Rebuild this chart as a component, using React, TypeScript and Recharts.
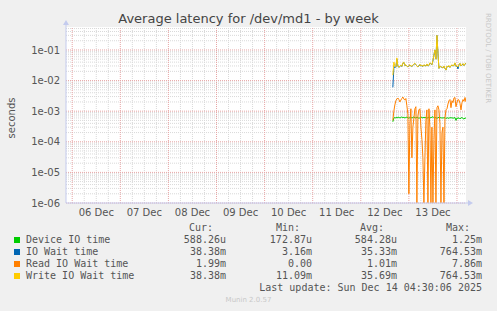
import React from "react";
import { LineChart, Line, XAxis, YAxis, CartesianGrid, ReferenceDot, ReferenceLine } from "recharts";

// hours since 06 Dec 00:00
const times = [
  160, 160.5, 161, 161.5, 162, 162.5, 163, 163.5, 164, 164.5,
  165, 165.5, 166, 166.5, 167, 167.5, 168, 168.5, 169, 169.5,
  170, 170.5, 171, 171.5, 172, 172.5, 173, 173.5, 174, 174.5,
  175, 175.5, 176, 176.5, 177, 177.5, 178, 178.5, 179, 179.5,
  180, 180.5, 181, 181.5, 182, 182.5, 183, 183.5, 184, 184.5,
  185, 185.5, 186, 186.5, 187, 187.5, 188, 188.5, 189, 189.5,
  190, 190.5, 191, 191.5, 192, 192.5, 193, 193.5, 194, 194.5,
  195, 195.5, 196, 196.5,
];

const deviceIO = [
  0.00045, 0.0006, 0.00062, 0.0006, 0.00063, 0.00061, 0.00064, 0.0006, 0.00062, 0.00065,
  0.00061, 0.00063, 0.0006, 0.00062, 0.00064, 0.00061, 0.00059, 0.00062, 0.00063, 0.0006,
  0.00062, 0.00065, 0.00061, 0.0006, 0.00063, 0.00062, 0.00058, 0.00061, 0.00064, 0.00062,
  0.0006, 0.00063, 0.00061, 0.00062, 0.00059, 0.00061, 0.00064, 0.0006, 0.00062, 0.00063,
  0.00066, 0.00061, 0.0006, 0.00062, 0.00058, 0.00061, 0.00063, 0.0006, 0.00062, 0.00059,
  0.00061, 0.0006, 0.00062, 0.00057, 0.00061, 0.0006, 0.00058, 0.00062, 0.0006, 0.00061,
  0.00059, 0.0006, 0.00062, 0.0005, 0.0006, 0.00058, 0.00061, 0.00056, 0.0006, 0.00062,
  0.00058, 0.00055, 0.0006, 0.00059,
];

const ioWait = [
  0.006, 0.025, 0.029, 0.027, 0.05, 0.03, 0.027, 0.029, 0.031, 0.029,
  0.037, 0.039, 0.031, 0.032, 0.03, 0.028, 0.03, 0.032, 0.03, 0.029,
  0.031, 0.034, 0.036, 0.033, 0.03, 0.028, 0.03, 0.033, 0.03, 0.031,
  0.029, 0.032, 0.031, 0.03, 0.034, 0.03, 0.031, 0.037, 0.035, 0.033,
  0.044, 0.068, 0.1, 0.05, 0.3, 0.078, 0.025, 0.029, 0.028, 0.027,
  0.026, 0.029, 0.025, 0.022, 0.029, 0.028, 0.03, 0.027, 0.03, 0.032,
  0.03, 0.031, 0.037, 0.029, 0.03, 0.024, 0.033, 0.036, 0.03, 0.032,
  0.035, 0.031, 0.034, 0.038,
];

const readWait = [
  0.0005, 0.001, 0.0016, 0.0022, 0.0025, 0.0027, 0.0024, 0.002, 0.0023, 0.0026,
  0.0029, 0.0025, 0.0023, 0.0026, 0.0015, 0.0008, 0.000002, 0.0004, 0.0012, 0.00003,
  0.0003, 0.0006, 0.0012, 0.0014, 0, 0.0007, 0.0011, 0.0012, 0.0003, 0.00012,
  0.00003, 0, 0.00003, 0.0005, 0.0011, 0, 0.0012, 0.0003, 0, 0.0003,
  0, 0.00012, 0.0011, 0, 0.0013, 0.0015, 0.0011, 0.0004, 0, 0.0002,
  0.0003, 0, 0.0006, 0.0011, 0.0012, 0.0017, 0.0022, 0.0024, 0.0013, 0.0022,
  0.0019, 0.0027, 0.0028, 0.0014, 0.0019, 0.0024, 0.0023, 0.0018, 0.0011, 0.0019,
  0.0024, 0.0021, 0.0028, 0.002,
];

const writeWait = [
  0.015, 0.04, 0.03, 0.028, 0.055, 0.03, 0.027, 0.03, 0.032, 0.029,
  0.038, 0.04, 0.031, 0.033, 0.03, 0.028, 0.031, 0.033, 0.03, 0.029,
  0.032, 0.035, 0.037, 0.033, 0.03, 0.028, 0.031, 0.034, 0.03, 0.032,
  0.029, 0.033, 0.031, 0.03, 0.035, 0.03, 0.032, 0.038, 0.036, 0.033,
  0.045, 0.07, 0.1, 0.05, 0.3, 0.08, 0.025, 0.03, 0.028, 0.027,
  0.026, 0.03, 0.025, 0.022, 0.03, 0.028, 0.031, 0.027, 0.03, 0.033,
  0.03, 0.032, 0.038, 0.029, 0.031, 0.028, 0.034, 0.037, 0.03, 0.033,
  0.036, 0.031, 0.035, 0.038,
];

const dayLabels = ["06 Dec", "07 Dec", "08 Dec", "09 Dec", "10 Dec", "11 Dec", "12 Dec", "13 Dec"];
const dayLabelPos = [12, 36, 60, 84, 108, 132, 156, 180];
const yTickValues = [1e-6, 1e-5, 1e-4, 1e-3, 1e-2, 1e-1];
const yTickLabels = ["1e-06", "1e-05", "1e-04", "1e-03", "1e-02", "1e-01"];

const seriesNames = ["Device IO time", "IO Wait time", "Read IO Wait time", "Write IO Wait time"];
const seriesColors = ["#00cc00", "#0066b3", "#ff8000", "#ffcc00"];
const curVals = ["588.26u", "38.38m", "1.99m", "38.38m"];
const minVals = ["172.87u", "3.16m", "0.00", "11.09m"];
const avgVals = ["584.28u", "35.33m", "1.01m", "35.69m"];
const maxVals = ["1.25m", "764.53m", "7.86m", "764.53m"];

const X_MIN = -3.1;
const X_MAX = 196.5;
const Y_MIN = 1e-6;
const Y_MAX = 0.5623;

const FLOOR = 1e-6;
const data = times.map((t, i) => ({
  t,
  dev: deviceIO[i],
  io: ioWait[i],
  rd: Math.max(readWait[i], FLOOR),
  wr: writeWait[i],
}));

const minorY: number[] = [];
for (let d = -6; d <= -1; d++) {
  for (let k = 2; k <= 9; k++) {
    const v = k * Math.pow(10, d);
    if (v < Y_MAX) minorY.push(v);
  }
}
const majorX: number[] = [];
const minorX: number[] = [];
for (let h = 0; h <= 192; h += 6) {
  if (h % 24 === 0) majorX.push(h);
  else minorX.push(h);
}

const AXIS = "#c4cbee";
const TXT = "#555";
const MINOR = "#d9d9d9";
const MAJOR = "#e8a6a6";

const UpArrow = (p: any) => (
  <g>
    <line x1={p.cx} y1={p.cy} x2={p.cx} y2={p.cy - 3} stroke={AXIS} />
    <path d={`M${p.cx - 3},${p.cy - 2} L${p.cx + 3},${p.cy - 2} L${p.cx},${p.cy - 7} Z`} fill={AXIS} />
  </g>
);
const RightArrow = (p: any) => (
  <g>
    <line x1={p.cx} y1={p.cy} x2={p.cx + 3} y2={p.cy} stroke={AXIS} />
    <path d={`M${p.cx + 2},${p.cy - 3} L${p.cx + 2},${p.cy + 3} L${p.cx + 7},${p.cy} Z`} fill={AXIS} />
  </g>
);

const mono = "'DejaVu Sans Mono', monospace";

export default function App() {
  const rowY = [234, 246, 258, 270];
  return (
    <div
      style={{
        position: "absolute",
        left: 0,
        top: 0,
        width: 497,
        height: 311,
        background: "#f0f0f0",
        fontFamily: "'DejaVu Sans', sans-serif",
        overflow: "hidden",
      }}
    >
      <div
        style={{
          position: "absolute",
          left: 0,
          width: 497,
          top: 11,
          textAlign: "center",
          fontSize: 13,
          lineHeight: "15px",
          color: "#444",
        }}
      >
        Average latency for /dev/md1 - by week
      </div>
      <div
        style={{
          position: "absolute",
          left: 11,
          top: 118,
          transform: "translate(-50%, -50%) rotate(-90deg)",
          fontSize: 10,
          color: TXT,
          whiteSpace: "nowrap",
        }}
      >
        seconds
      </div>
      <div
        style={{
          position: "absolute",
          left: 488,
          top: 58,
          transform: "translate(-50%, -50%) rotate(90deg)",
          fontSize: 7,
          color: "#c8c8c8",
          whiteSpace: "nowrap",
        }}
      >
        RRDTOOL / TOBI OETIKER
      </div>
      <div style={{ position: "absolute", left: 0, top: 0 }}>
        <LineChart
          width={497}
          height={311}
          data={data}
          margin={{ top: 27, right: 31, left: 0, bottom: 88 }}
        >
          <CartesianGrid fill="#ffffff" horizontal={false} vertical={false} />
          <XAxis
            dataKey="t"
            type="number"
            domain={[X_MIN, X_MAX]}
            allowDataOverflow
            ticks={dayLabelPos}
            tickFormatter={(v: number) => dayLabels[dayLabelPos.indexOf(v)] ?? ""}
            tickLine={false}
            tickSize={0}
            tickMargin={6}
            height={20}
            axisLine={{ stroke: AXIS }}
            tick={{ fontSize: 10, fill: TXT, fontFamily: "'DejaVu Sans', sans-serif" }}
            interval={0}
          />
          <YAxis
            scale="log"
            type="number"
            domain={[Y_MIN, Y_MAX]}
            allowDataOverflow
            ticks={yTickValues}
            tickFormatter={(v: number) => {
              const i = yTickValues.findIndex((x) => Math.abs(Math.log10(x) - Math.log10(v)) < 1e-6);
              return i >= 0 ? yTickLabels[i] : "";
            }}
            tickLine={false}
            tickSize={0}
            tickMargin={6}
            width={66}
            axisLine={{ stroke: AXIS }}
            tick={{ fontSize: 10, fill: TXT, fontFamily: "'DejaVu Sans', sans-serif" }}
            interval={0}
          />
          {minorY.map((v) => (
            <ReferenceLine key={"my" + v} y={v} stroke={MINOR} strokeDasharray="1 1" />
          ))}
          {minorX.map((v) => (
            <ReferenceLine key={"mx" + v} x={v} stroke={MINOR} strokeDasharray="1 1" />
          ))}
          {yTickValues.map((v) => (
            <ReferenceLine key={"My" + v} y={v} stroke={MAJOR} strokeDasharray="1 1" />
          ))}
          {majorX.map((v) => (
            <ReferenceLine key={"Mx" + v} x={v} stroke={MAJOR} strokeDasharray="1 1" />
          ))}
          <Line type="linear" dataKey="dev" stroke={seriesColors[0]} strokeWidth={1} dot={false} isAnimationActive={false} />
          <Line type="linear" dataKey="io" stroke={seriesColors[1]} strokeWidth={1} dot={false} isAnimationActive={false} />
          <Line type="linear" dataKey="rd" stroke={seriesColors[2]} strokeWidth={1} dot={false} isAnimationActive={false} />
          <Line type="linear" dataKey="wr" stroke={seriesColors[3]} strokeWidth={1} dot={false} isAnimationActive={false} />
          <ReferenceDot x={X_MIN} y={Y_MAX} r={0} ifOverflow="visible" shape={UpArrow} />
          <ReferenceDot x={X_MAX} y={Y_MIN} r={0} ifOverflow="visible" shape={RightArrow} />
        </LineChart>
      </div>

      {[["Cur:", 213], ["Min:", 300], ["Avg:", 384], ["Max:", 470]].map(([t, r]) => (
        <div
          key={t as string}
          style={{
            position: "absolute",
            top: 222,
            right: 497 - (r as number),
            fontFamily: mono,
            fontSize: 10,
            lineHeight: "12px",
            color: TXT,
            whiteSpace: "pre",
          }}
        >
          {t}
        </div>
      ))}
      {seriesNames.map((name, i) => (
        <React.Fragment key={name}>
          <div
            style={{
              position: "absolute",
              left: 14,
              top: rowY[i] + 3,
              width: 6,
              height: 6,
              background: seriesColors[i],
            }}
          />
          <div
            style={{
              position: "absolute",
              left: 26,
              top: rowY[i],
              fontFamily: mono,
              fontSize: 10,
              lineHeight: "12px",
              color: TXT,
              whiteSpace: "pre",
            }}
          >
            {name}
          </div>
          {[
            [curVals[i], 226],
            [minVals[i], 312],
            [avgVals[i], 397],
            [maxVals[i], 482],
          ].map(([v, r], j) => (
            <div
              key={j}
              style={{
                position: "absolute",
                top: rowY[i],
                right: 497 - (r as number),
                fontFamily: mono,
                fontSize: 10,
                lineHeight: "12px",
                color: TXT,
                whiteSpace: "pre",
              }}
            >
              {v}
            </div>
          ))}
        </React.Fragment>
      ))}
      <div
        style={{
          position: "absolute",
          top: 282,
          right: 497 - 482,
          fontFamily: mono,
          fontSize: 10,
          lineHeight: "12px",
          color: TXT,
          whiteSpace: "pre",
        }}
      >
        Last update: Sun Dec 14 04:30:06 2025
      </div>
      <div
        style={{
          position: "absolute",
          left: 0,
          width: 497,
          top: 295,
          textAlign: "center",
          fontSize: 7,
          lineHeight: "10px",
          color: "#c8c8c8",
        }}
      >
        Munin 2.0.57
      </div>
    </div>
  );
}
